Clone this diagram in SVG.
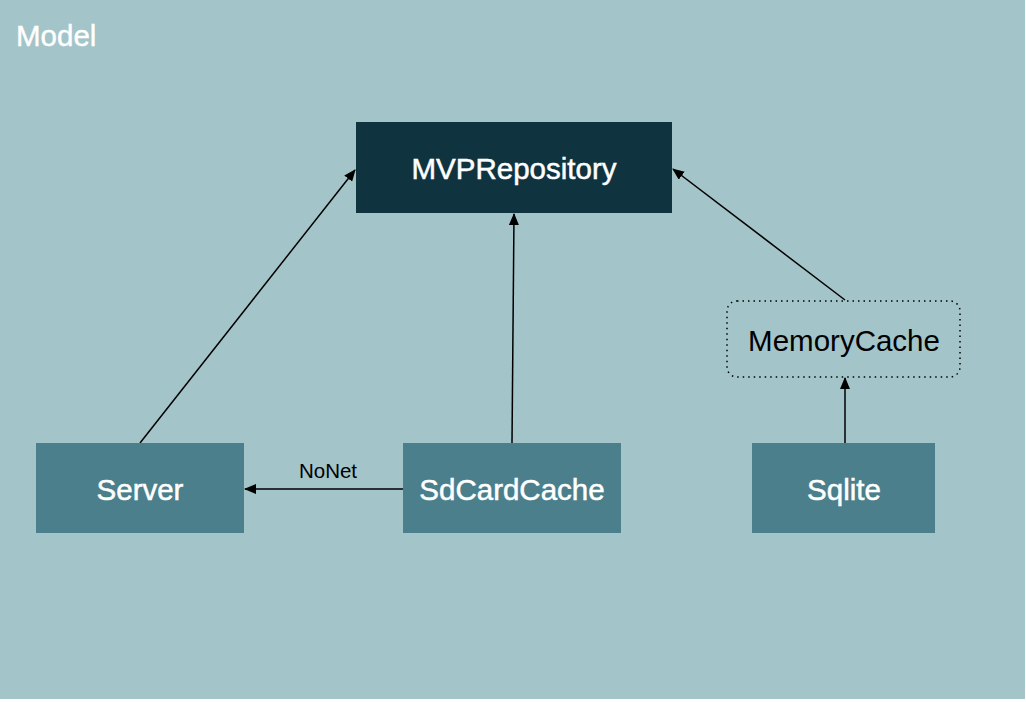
<svg xmlns="http://www.w3.org/2000/svg" width="1026" height="702" viewBox="0 0 1026 702">
<style>
text{font-family:"Liberation Sans",Arial,sans-serif}
.lbl{font-size:29.5px;text-anchor:middle;dominant-baseline:central}
.w{fill:#ffffff;stroke:#ffffff;stroke-width:0.5}
.edge{stroke:#000;stroke-width:1.5;fill:none;marker-end:url(#ah)}
</style>
<defs>
<marker id="ah" viewBox="0 0 12 10" refX="11" refY="5" markerWidth="12" markerHeight="10" markerUnits="userSpaceOnUse" orient="auto">
<path d="M0,0 L12,5 L0,10 z" fill="#000"/>
</marker>
</defs>
<rect x="0" y="0" width="1025" height="699" fill="#a3c4c9"/>
<text x="16" y="46" font-size="29.5" fill="#ffffff" stroke="#ffffff" stroke-width="0.4">Model</text>
<g id="connectors">
<line class="edge" x1="140" y1="443" x2="355" y2="170"/>
<line class="edge" x1="512" y1="443" x2="514" y2="214"/>
<line class="edge" x1="845" y1="300" x2="673" y2="169"/>
<line class="edge" x1="845" y1="443" x2="845" y2="378"/>
<line class="edge" x1="403" y1="489" x2="245" y2="489"/>
<text x="328" y="478" font-size="20.5" text-anchor="middle" fill="#000">NoNet</text>
</g>
<g id="MVPRepository">
<rect x="356" y="122" width="316" height="91" fill="#10343f"/>
<text class="lbl w" x="514" y="168">MVPRepository</text>
</g>
<g id="MemoryCache">
<rect x="727" y="301" width="233" height="76" rx="10" fill="none" stroke="#000" stroke-width="1.5" stroke-dasharray="1.5,4"/>
<text class="lbl" x="844" y="340" fill="#000">MemoryCache</text>
</g>
<g id="Server">
<rect x="36" y="443" width="208" height="90" fill="#4b7f8c"/>
<text class="lbl w" x="140" y="489">Server</text>
</g>
<g id="SdCardCache">
<rect x="403" y="443" width="218" height="90" fill="#4b7f8c"/>
<text class="lbl w" x="512" y="489">SdCardCache</text>
</g>
<g id="Sqlite">
<rect x="752" y="443" width="183" height="90" fill="#4b7f8c"/>
<text class="lbl w" x="844" y="489">Sqlite</text>
</g>
</svg>
